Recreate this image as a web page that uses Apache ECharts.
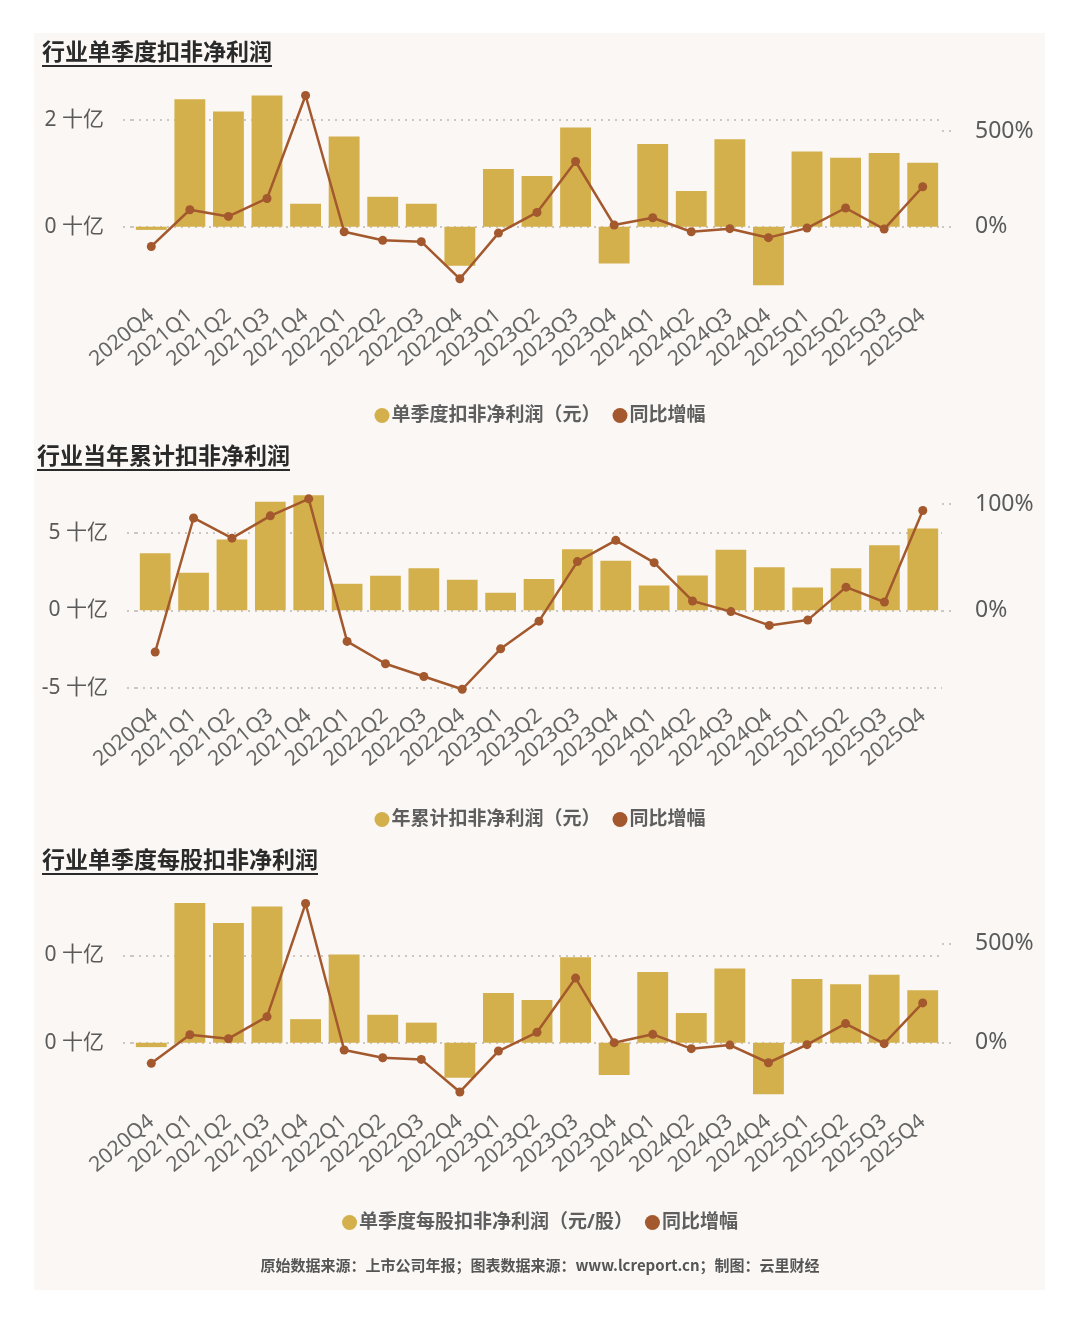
<!DOCTYPE html>
<html>
<head>
<meta charset="utf-8">
<script src="https://cdn.jsdelivr.net/npm/echarts@6/dist/echarts.min.js"></script>
<style>
  html, body { margin: 0; padding: 0; background: #fff; }
  #chart { width: 1080px; height: 1325px; }
</style>
</head>
<body>
<div id="chart"></div>
<script>
// quarters on the x axis
const quarters = ['2020Q4', '2021Q1', '2021Q2', '2021Q3', '2021Q4', '2022Q1', '2022Q2', '2022Q3', '2022Q4',
  '2023Q1', '2023Q2', '2023Q3', '2023Q4', '2024Q1', '2024Q2', '2024Q3', '2024Q4',
  '2025Q1', '2025Q2', '2025Q3', '2025Q4'];

// chart 1: single-quarter profit (十亿元) and yoy (%)
const quarterProfit = [-0.06, 2.39, 2.16, 2.46, 0.43, 1.69, 0.56, 0.43, -0.73, 1.08, 0.95,
  1.86, -0.69, 1.55, 0.67, 1.64, -1.10, 1.41, 1.29, 1.38, 1.20];
const quarterYoY = [-103, 89, 54, 148, 686, -26, -71, -78, -272, -33, 75,
  341, 9, 47, -26, -10, -57, -7, 98, -12, 209];

// chart 2: year-to-date profit (十亿元) and yoy (%)
const ytdProfit = [3.68, 2.42, 4.57, 7.01, 7.42, 1.71, 2.23, 2.71, 1.97, 1.13, 2.02,
  3.94, 3.20, 1.60, 2.25, 3.90, 2.77, 1.47, 2.71, 4.20, 5.28];
const ytdYoY = [-39, 87, 68, 89, 105, -29, -50, -62, -74, -36, -10,
  46, 66, 45, 9, -1, -14, -9, 22, 8, 94];

// chart 3: single-quarter profit per share (元/股) and yoy (%)
const epsQuarter = [-0.005, 0.160, 0.137, 0.156, 0.027, 0.101, 0.032, 0.023, -0.040, 0.057, 0.049,
  0.098, -0.037, 0.081, 0.034, 0.085, -0.059, 0.073, 0.067, 0.078, 0.060];
const epsYoY = [-104, 40, 20, 131, 700, -37, -76, -84, -248, -42, 52,
  325, 0, 42, -30, -12, -101, -10, 96, -5, 200];

// tick labels
const leftTicks1 = [0, 2];
const leftTicks2 = [-5, 0, 5];
const leftTicks3 = [0, 0.1];
const rightTicks1 = [0, 500];
const rightTicks2 = [0, 100];
const rightTicks3 = [0, 500];

const titles = ['行业单季度扣非净利润', '行业当年累计扣非净利润', '行业单季度每股扣非净利润'];
const barNames = ['单季度扣非净利润（元）', '年累计扣非净利润（元）', '单季度每股扣非净利润（元/股）'];
const lineName = '同比增幅';
const footer = '原始数据来源：上市公司年报；图表数据来源：www.lcreport.cn；制图：云里财经';

const BAR = '#d3b04b';
const LINE = '#a3582d';
const TXT = '#5a5a5a';
const FONT = "'Noto Sans', 'Noto Sans CJK SC', sans-serif";

const chart = echarts.init(document.getElementById('chart'));

const grids = [
  { left: 132, right: 138, top: 85, height: 220 },
  { left: 136, right: 138, top: 490, height: 215 },
  { left: 132, right: 138, top: 893, height: 218 }
];

function dotted() {
  return { color: '#bdb8b2', type: [2, 5], width: 1.5 };
}

function leftAxis(i, min, max, ticks) {
  return {
    type: 'value', gridIndex: i, min: min, max: max, position: 'left',
    axisLine: { show: false },
    axisTick: { show: true, customValues: ticks, length: 12, lineStyle: dotted() },
    axisLabel: {
      customValues: ticks, margin: 28, color: TXT, fontSize: 21, fontFamily: FONT,
      formatter: v => Math.round(v) + ' 十亿'
    },
    splitLine: { show: true, lineStyle: dotted() }
  };
}

function rightAxis(i, min, max, ticks) {
  return {
    type: 'value', gridIndex: i, min: min, max: max, position: 'right',
    axisLine: { show: false },
    axisTick: { show: true, customValues: ticks, length: 12, lineStyle: dotted() },
    axisLabel: {
      customValues: ticks, margin: 33, color: TXT, fontSize: 23, fontFamily: FONT,
      formatter: v => v + '%'
    },
    splitLine: { show: false }
  };
}

function xAxis(i) {
  return {
    type: 'category', gridIndex: i, data: quarters,
    axisLine: { show: false }, axisTick: { show: false },
    axisLabel: { interval: 0, rotate: 40, color: '#666', fontSize: 21, fontFamily: FONT, margin: 8 }
  };
}

function barSeries(i, name, data) {
  return {
    name: name, type: 'bar', xAxisIndex: i, yAxisIndex: i * 2, data: data,
    barCategoryGap: '20%', itemStyle: { color: BAR }, z: 2
  };
}

function lineSeries(i, data) {
  return {
    name: lineName, type: 'line', xAxisIndex: i, yAxisIndex: i * 2 + 1, data: data,
    symbol: 'circle', symbolSize: 9, itemStyle: { color: LINE },
    lineStyle: { color: LINE, width: 2.5 }, z: 3
  };
}

function legend(i, top) {
  return {
    top: top, left: 'center', data: [barNames[i], lineName],
    icon: 'circle', itemWidth: 15, itemHeight: 15, itemGap: 12,
    textStyle: { color: '#5e5e5e', fontSize: 19, fontWeight: 'bold', fontFamily: FONT, padding: [0, 0, 0, -3] }
  };
}

const titleY = [53, 457, 861];
const titleX = [42, 37, 42];
const graphics = [
  { type: 'rect', shape: { x: 34, y: 33, width: 1011, height: 1257 }, style: { fill: '#faf7f4' }, z: -10, silent: true }
];
titles.forEach((t, i) => {
  graphics.push({
    type: 'text', left: titleX[i], top: titleY[i] - 13,
    style: { text: t, fill: '#2a2a2a', font: "bold 23px 'Noto Sans CJK SC', sans-serif" }
  });
  graphics.push({
    type: 'rect', shape: { x: titleX[i], y: titleY[i] + 12, width: t.length * 23, height: 2 },
    style: { fill: '#2a2a2a' }
  });
});
graphics.push({
  type: 'text', left: 'center', top: 1258,
  style: { text: footer, fill: '#555', font: "bold 15px 'Noto Sans CJK SC', sans-serif" }
});

chart.setOption({
  animation: false,
  backgroundColor: 'transparent',
  graphic: graphics,
  grid: grids,
  legend: [legend(0, 401), legend(1, 805), legend(2, 1208)],
  xAxis: [xAxis(0), xAxis(1), xAxis(2)],
  yAxis: [
    leftAxis(0, -1.468, 2.656, leftTicks1), rightAxis(0, -409, 741, rightTicks1),
    leftAxis(1, -6.11, 7.76, leftTicks2), rightAxis(1, -88.8, 113.3, rightTicks2),
    leftAxis(2, -0.0782, 0.1715, leftTicks3), rightAxis(2, -343.7, 753, rightTicks3)
  ],
  series: [
    barSeries(0, barNames[0], quarterProfit), lineSeries(0, quarterYoY),
    barSeries(1, barNames[1], ytdProfit), lineSeries(1, ytdYoY),
    barSeries(2, barNames[2], epsQuarter), lineSeries(2, epsYoY)
  ]
});
</script>
</body>
</html>
